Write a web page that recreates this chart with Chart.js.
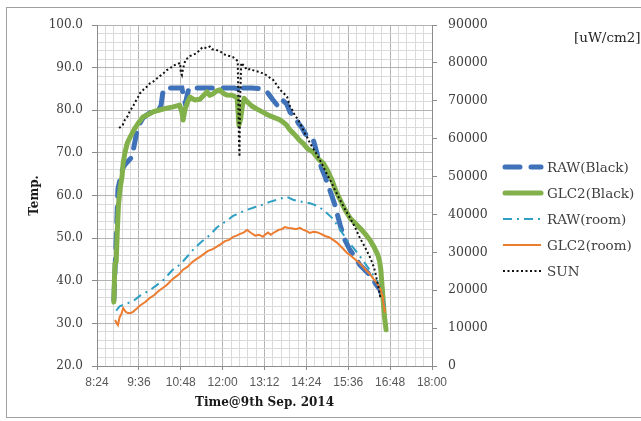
<!DOCTYPE html>
<html>
<head>
<meta charset="utf-8">
<script src="https://cdn.jsdelivr.net/npm/chart.js@4.4.1/dist/chart.umd.min.js"></script>
<style>
  html, body { margin: 0; padding: 0; background: #fff; }
  #wrap { position: relative; width: 641px; height: 421px; }
</style>
</head>
<body>
<div id="wrap"><canvas id="myChart"></canvas></div>
<script>
// times are minutes after midnight (8:24 = 504)
const timeTicks = [504, 576, 648, 720, 792, 864, 936, 1008, 1080];
const tempTicks = [20, 30, 40, 50, 60, 70, 80, 90, 100];
const sunTicks = [0, 10000, 20000, 30000, 40000, 50000, 60000, 70000, 80000, 90000];
const seriesNames = ['RAW(Black)', 'GLC2(Black)', 'RAW(room)', 'GLC2(room)', 'SUN'];

const rawBlackTime = [533, 537, 540, 545, 549, 552, 557, 564, 569, 573, 578, 583, 589, 595, 601, 608, 614, 617, 621, 630,
  640, 650, 653, 656, 659, 662, 680, 700, 720, 740, 747, 750, 755, 770, 790, 798, 806, 815, 822, 830,
  836, 844, 850, 856, 862, 870, 876, 883, 890, 896, 905, 913, 922, 930, 939, 948, 956, 965, 973, 982, 991, 996];
const rawBlackTemp = [35.5, 49.6, 61.5, 64.8, 66.5, 67.2, 68.0, 69.0, 72.5, 75.4, 77.0, 78.2, 78.8, 79.4, 79.8, 80.0, 81.0, 84.0, 85.2, 85.2,
  85.2, 85.2, 83.0, 81.5, 83.5, 85.2, 85.2, 85.2, 85.2, 85.2, 85.0, 84.0, 85.2, 85.2, 85.0, 84.0, 82.5, 81.0, 82.5, 81.5,
  79.5, 78.5, 77.0, 76.0, 74.5, 73.2, 73.0, 69.5, 66.5, 64.5, 61.0, 57.8, 53.1, 49.6, 47.2, 45.5, 43.7, 42.5, 41.4, 39.5, 37.8, 35.5];

const glcBlackTime = [533, 534, 535, 537, 539, 541, 544, 547, 549, 552, 556, 561, 568, 575, 583, 592, 600, 610, 624, 635,
  646, 650, 652, 655, 660, 664, 672, 681, 688, 693, 698, 703, 709, 715, 721, 727, 737, 745, 748, 751,
  754, 757, 763, 770, 780, 790, 798, 810, 818, 824, 830, 835, 841, 847, 852, 858, 866, 875, 885, 893,
  900, 908, 915, 922, 930, 939, 948, 956, 965, 973, 980, 987, 990, 992, 994, 996, 998, 1001];
const glcBlackTemp = [35.0, 40.5, 44.0, 44.5, 52.0, 58.0, 62.0, 64.4, 67.6, 70.0, 72.3, 73.7, 75.5, 77.0, 78.4, 79.0, 79.6, 80.0, 80.5, 80.8,
  81.2, 79.5, 77.7, 80.0, 82.0, 83.1, 82.4, 82.6, 83.6, 84.3, 83.5, 83.8, 84.5, 84.8, 84.0, 83.6, 83.5, 82.9, 76.5, 78.0,
  81.0, 82.8, 81.9, 81.0, 80.2, 79.5, 78.9, 78.2, 77.8, 77.2, 76.5, 75.5, 74.7, 73.8, 73.0, 72.3, 71.0, 70.2, 68.5, 67.6,
  66.0, 63.6, 61.0, 59.0, 56.8, 54.7, 53.5, 52.4, 51.0, 49.6, 48.0, 46.0, 44.5, 42.6, 39.0, 35.5, 32.0, 28.5];

const rawRoomTime = [537, 543, 552, 566, 578, 587, 595, 605, 617, 625, 633, 640, 647, 660, 672, 685, 698, 710, 724, 738,
  755, 776, 790, 801, 818, 830, 841, 853, 870, 884, 896, 910, 922, 934, 948, 961, 973, 985, 994, 999];
const rawRoomTemp = [33.0, 34.0, 34.5, 35.2, 36.5, 37.2, 37.8, 38.8, 40.0, 41.2, 42.4, 43.2, 43.8, 45.8, 47.7, 49.3, 50.7, 52.5, 53.8, 55.2,
  56.3, 57.3, 57.9, 58.5, 59.2, 59.7, 59.0, 58.6, 58.2, 57.5, 56.3, 54.5, 52.0, 49.5, 47.2, 44.8, 42.5, 40.0, 37.5, 34.0];

const glcRoomTime = [535, 538, 540, 543, 546, 549, 553, 556, 561, 566, 572, 578, 587, 595, 602, 609, 617, 624, 631, 638,
  645, 652, 660, 667, 674, 681, 688, 695, 703, 710, 717, 724, 731, 738, 744, 750, 756, 762, 769, 776,
  783, 789, 794, 798, 803, 807, 812, 817, 822, 827, 833, 839, 846, 853, 858, 862, 866, 870, 876, 882,
  889, 896, 903, 910, 916, 922, 928, 934, 941, 948, 955, 961, 967, 973, 979, 985, 989, 992, 995, 997, 999];
const glcRoomTemp = [30.8, 30.0, 29.6, 31.5, 32.2, 33.6, 32.8, 32.5, 32.4, 32.7, 33.4, 34.2, 35.0, 36.0, 36.6, 37.5, 38.3, 39.0, 40.0, 40.8,
  41.5, 42.6, 43.3, 44.3, 45.0, 45.6, 46.3, 47.0, 47.4, 48.0, 48.6, 49.3, 49.6, 50.3, 50.6, 51.0, 51.3, 51.9, 51.2, 50.6,
  50.8, 50.3, 50.9, 51.3, 50.8, 51.2, 51.6, 52.0, 52.1, 52.6, 52.4, 52.3, 52.1, 52.4, 52.0, 51.8, 51.5, 51.2, 51.5, 51.4,
  51.0, 50.5, 50.2, 49.6, 49.0, 48.2, 47.4, 46.5, 45.8, 45.0, 44.2, 43.3, 42.4, 41.6, 40.5, 39.5, 38.6, 37.8, 36.3, 34.5, 32.5];

const sunTime = [542, 548, 552, 557, 561, 565, 569, 574, 578, 583, 587, 591, 595, 600, 604, 608, 612, 618, 624, 630,
  635, 641, 647, 648, 650, 652, 655, 657, 661, 664, 670, 676, 681, 686, 690, 693, 698, 702, 708, 716,
  721, 726, 732, 738, 742, 746, 748, 749, 750, 752, 755, 758, 762, 767, 772, 778, 784, 789, 793, 800,
  807, 813, 819, 825, 831, 836, 840, 844, 849, 853, 857, 861, 866, 870, 875, 879, 883, 887, 892, 896,
  900, 905, 913, 922, 930, 939, 948, 956, 965, 973, 978, 982, 987, 991];
const sunValue = [62800, 63500, 65000, 66000, 67500, 68200, 69500, 70800, 72000, 72800, 73500, 73800, 74600, 75000, 75500, 76000, 76500, 77200, 78100, 78600,
  79300, 79600, 80000, 77500, 76800, 78500, 80200, 81000, 81300, 81800, 82200, 82600, 83500, 84200, 84000, 83900, 84300, 83600, 83500, 83000,
  82400, 82000, 81800, 81500, 81000, 80500, 60000, 55200, 70000, 80000, 79500, 79000, 78100, 78400, 78100, 77800, 77600, 77200, 77000, 76200,
  75500, 74200, 72850, 72000, 71000, 68400, 67500, 66200, 65200, 64100, 62800, 61500, 60200, 58850, 57600, 56600, 55500, 54400, 53000, 51700,
  50400, 49100, 46500, 43800, 41500, 39100, 36500, 33800, 31300, 28800, 27000, 25000, 21500, 18200];

function pairs(xs, ys) {
  return xs.map((x, i) => ({ x: x, y: ys[i] }));
}

function hhmm(v) {
  const h = Math.floor(v / 60);
  const m = Math.round(v - h * 60);
  return h + ':' + (m < 10 ? '0' + m : m);
}

// minor gridlines: 4 between each pair of majors
function minorOf(major) {
  const out = [];
  for (let i = 0; i < major.length - 1; i++) {
    const step = (major[i + 1] - major[i]) / 5;
    for (let k = 1; k < 5; k++) out.push(major[i] + step * k);
  }
  return out;
}

const majorGrid = '#b3b3b3';
const minorGrid = '#dadada';
const axisColor = '#8c8c8c';
const serif = 'DejaVu Serif';

const frameAndLegend = {
  id: 'frameAndLegend',
  beforeDraw(chart) {
    const c = chart.ctx;
    c.save();
    c.fillStyle = '#fff';
    c.fillRect(0, 0, chart.width, chart.height);
    c.strokeStyle = '#a0a0a0';
    c.lineWidth = 1;
    c.strokeRect(6.5, 7.5, 700, 410);
    c.restore();
  },
  afterDraw(chart) {
    const c = chart.ctx;
    c.save();
    chart.data.datasets.forEach((ds, i) => {
      const y = 167 + 26 * i;
      c.beginPath();
      c.setLineDash(ds.borderDash || []);
      c.lineCap = ds.borderCapStyle || 'butt';
      c.lineWidth = ds.borderWidth;
      c.strokeStyle = ds.borderColor;
      c.moveTo(ds.borderCapStyle === 'round' ? 505 : 503, y);
      c.lineTo(541, y);
      c.stroke();
      c.setLineDash([]);
      c.fillStyle = '#404040';
      c.font = '13.5px "' + serif + '"';
      c.textBaseline = 'middle';
      c.fillText(ds.label, 547, y + 1);
    });
    c.fillStyle = '#262626';
    c.font = '13.5px "' + serif + '"';
    c.textBaseline = 'middle';
    c.fillText('[uW/cm2]', 574, 38);
    c.restore();
  }
};

const ctx = document.getElementById('myChart');

new Chart(ctx, {
  type: 'line',
  data: {
    datasets: [
      {
        label: seriesNames[0],
        data: pairs(rawBlackTime, rawBlackTemp),
        borderColor: '#3f72b8',
        borderWidth: 5,
        borderDash: [15, 11],
        borderCapStyle: 'round',
        yAxisID: 'y',
        order: 5
      },
      {
        label: seriesNames[1],
        data: pairs(glcBlackTime, glcBlackTemp),
        borderColor: '#82b04a',
        borderWidth: 5,
        borderCapStyle: 'round',
        borderJoinStyle: 'round',
        yAxisID: 'y',
        order: 4
      },
      {
        label: seriesNames[2],
        data: pairs(rawRoomTime, rawRoomTemp),
        borderColor: '#2f9fc4',
        borderWidth: 2,
        borderDash: [9, 5, 2, 5],
        yAxisID: 'y',
        order: 3
      },
      {
        label: seriesNames[3],
        data: pairs(glcRoomTime, glcRoomTemp),
        borderColor: '#ec7c30',
        borderWidth: 2,
        yAxisID: 'y',
        order: 2
      },
      {
        label: seriesNames[4],
        data: pairs(sunTime, sunValue),
        borderColor: '#111111',
        borderWidth: 2,
        borderDash: [2, 2.5],
        yAxisID: 'y2',
        order: 1
      }
    ]
  },
  options: {
    responsive: true,
    maintainAspectRatio: false,
    animation: false,
    elements: { point: { radius: 0 }, line: { tension: 0 } },
    layout: { padding: { top: 25, right: 149, bottom: 0, left: 0 } },
    plugins: { legend: { display: false }, tooltip: { enabled: false } },
    scales: {
      x: {
        type: 'linear',
        position: 'bottom',
        min: 504,
        max: 1080,
        afterBuildTicks: s => { s.ticks = timeTicks.map(v => ({ value: v })); },
        afterFit: s => { s.height = 55; },
        ticks: {
          callback: v => hhmm(v),
          autoSkip: false,
          maxRotation: 0,
          color: '#595959',
          padding: 5,
          font: { family: 'Liberation Sans', size: 12 }
        },
        grid: { color: majorGrid, tickColor: axisColor, tickLength: 4 },
        border: { color: axisColor },
        title: {
          display: true,
          text: 'Time@9th Sep. 2014',
          color: '#1a1a1a',
          padding: { top: 0, bottom: 11 },
          font: { family: serif, size: 12, weight: 'bold' }
        }
      },
      xMinor: {
        type: 'linear',
        position: 'bottom',
        min: 504,
        max: 1080,
        afterBuildTicks: s => { s.ticks = minorOf(timeTicks).map(v => ({ value: v })); },
        afterFit: s => { s.height = 0; },
        ticks: { display: false },
        grid: { color: minorGrid, drawTicks: false },
        border: { display: false }
      },
      y: {
        type: 'linear',
        position: 'left',
        min: 20,
        max: 100,
        afterBuildTicks: s => { s.ticks = tempTicks.map(v => ({ value: v })); },
        afterFit: s => { s.width = 97; },
        ticks: {
          callback: v => v.toFixed(1),
          color: '#404040',
          padding: 9,
          font: { family: serif, size: 12 }
        },
        grid: { color: majorGrid, tickColor: axisColor, tickLength: 5 },
        border: { color: axisColor },
        title: {
          display: true,
          text: 'Temp.',
          color: '#1a1a1a',
          padding: { top: 28, bottom: 0 },
          font: { family: serif, size: 12, weight: 'bold' }
        }
      },
      yMinor: {
        type: 'linear',
        position: 'left',
        min: 20,
        max: 100,
        afterBuildTicks: s => { s.ticks = minorOf(tempTicks).map(v => ({ value: v })); },
        afterFit: s => { s.width = 0; },
        ticks: { display: false },
        grid: { color: minorGrid, drawTicks: false },
        border: { display: false }
      },
      y2: {
        type: 'linear',
        position: 'right',
        min: 0,
        max: 90000,
        afterBuildTicks: s => { s.ticks = sunTicks.map(v => ({ value: v })); },
        afterFit: s => { s.width = 60; },
        ticks: {
          callback: v => String(v),
          color: '#404040',
          padding: 11,
          font: { family: serif, size: 12.5 }
        },
        grid: { drawOnChartArea: false, tickColor: axisColor, tickLength: 5 },
        border: { color: axisColor }
      }
    }
  },
  plugins: [frameAndLegend]
});
</script>
</body>
</html>
